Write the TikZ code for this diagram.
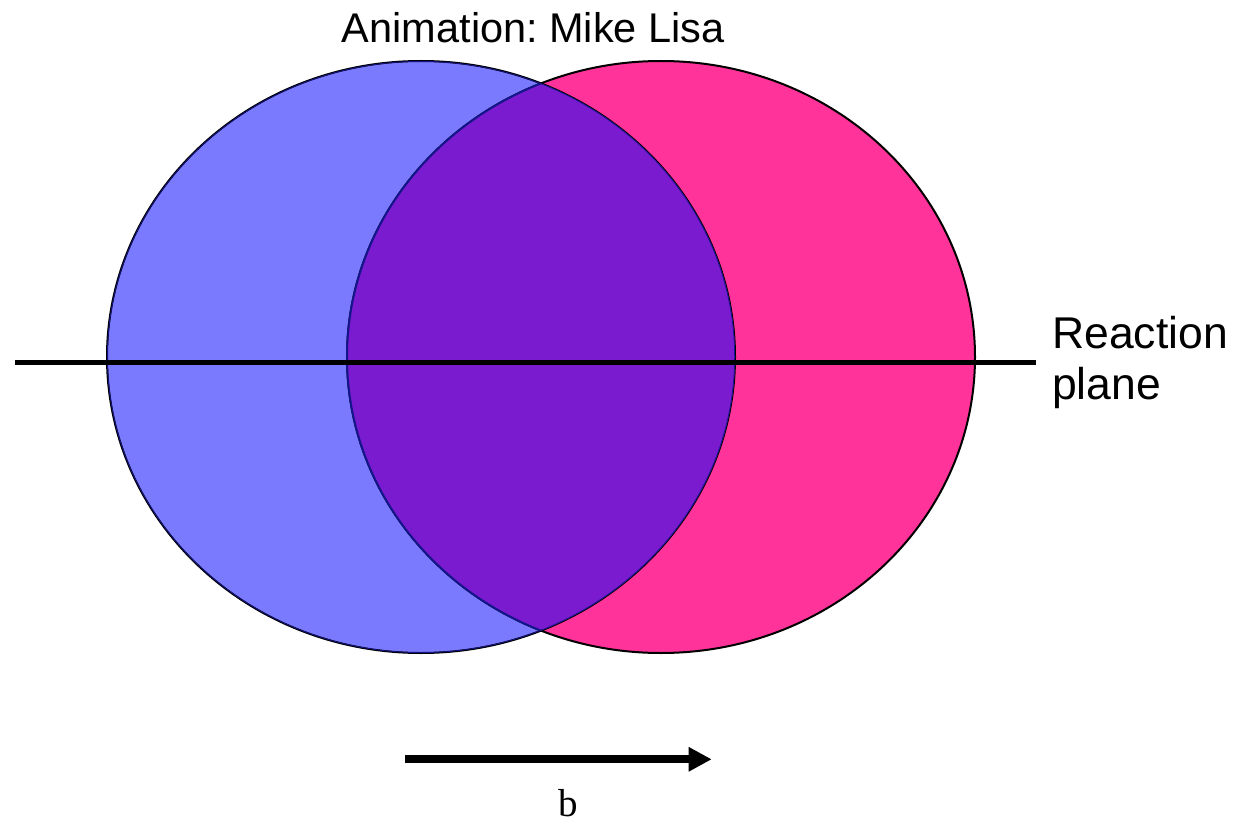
\documentclass[tikz,border=0pt]{standalone}
\usepackage{fontspec}
\setmainfont{Liberation Sans}
\newfontfamily\serifb{Liberation Serif}
\frenchspacing
\usetikzlibrary{arrows.meta}
\definecolor{nucblue}{RGB}{122,122,255}
\definecolor{nucpink}{RGB}{255,51,153}
\definecolor{nucpurple}{RGB}{122,27,207}
\definecolor{rimnavy}{RGB}{20,20,140}
\tikzset{
  nucleus/.style={x radius=314pt, y radius=296pt},
  rim/.style={line width=2pt},
}

\begin{document}
\begin{tikzpicture}[x=1pt, y=-1pt, >={Triangle[length=23pt,width=23pt]}]
  \useasboundingbox (0,0) rectangle (1259,829);
  \coordinate (L) at (421,357);
  \coordinate (R) at (661,357);
  \fill[nucblue] (L) ellipse [nucleus];
  \fill[nucpink] (R) ellipse [nucleus];
  \draw[rim] (L) ellipse [nucleus];
  \draw[rim] (R) ellipse [nucleus];
  \begin{scope}
    \clip (L) ellipse [nucleus];
    \fill[nucpurple] (R) ellipse [nucleus];
    \draw[rim, rimnavy] (R) ellipse [nucleus];
    \draw[rim, line width=1.5pt, rimnavy] (L) ellipse [nucleus];
  \end{scope}
  % reaction plane
  \coordinate (planeL) at (15,362.5);
  \coordinate (planeR) at (1036,362.5);
  \draw[line width=5.5pt] (planeL) -- (planeR);
  \node[anchor=base west, align=left, font=\fontsize{44.5}{51}\selectfont, inner sep=0pt] (plane) at (1052,399.3) {Reaction\\plane};
  % impact parameter
  \coordinate (bstart) at (405,759.3);
  \coordinate (bend) at (711.7,759.3);
  \draw[->, line width=8.3pt] (bstart) -- (bend);
  \node[anchor=base, font=\serifb\fontsize{39}{45}\selectfont, inner sep=0pt] (blabel) at (568,816.7) {b};
  \node[anchor=base, font=\fontsize{41.5}{48}\selectfont, inner sep=0pt] (title) at (533.3,42.7) {Animation: Mike Lisa};
\end{tikzpicture}
\end{document}
